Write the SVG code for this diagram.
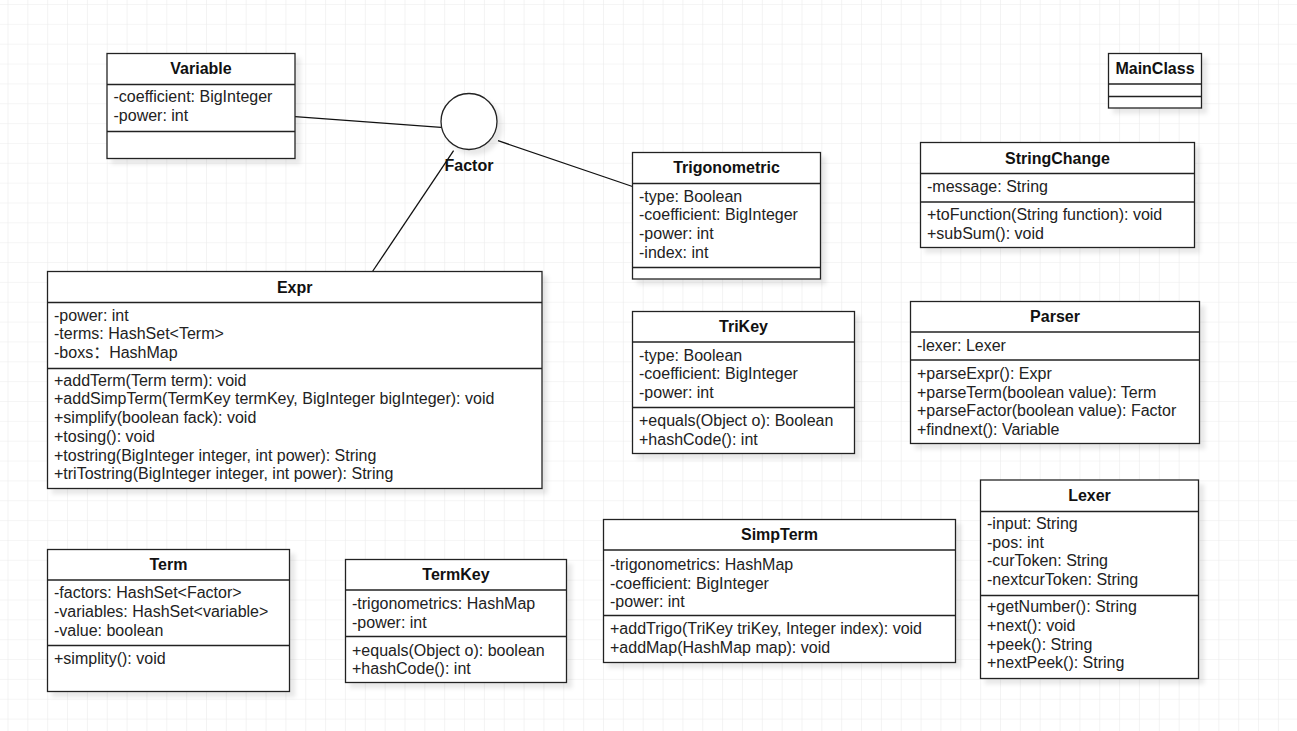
<svg xmlns="http://www.w3.org/2000/svg" width="1297" height="731" viewBox="0 0 1297 731">
<defs>
<pattern id="grid" x="7.5" y="4" width="19.85" height="19.85" patternUnits="userSpaceOnUse">
<path d="M0 0H19.85M0 0V19.85" fill="none" stroke="#ececec" stroke-width="1.2"/>
</pattern>
<filter id="sh" x="-10%" y="-10%" width="130%" height="130%">
<feDropShadow dx="5" dy="5" stdDeviation="2" flood-color="#000" flood-opacity="0.09"/>
</filter>
</defs>
<style>
.box{fill:#fff;stroke:#222;stroke-width:1.3}
.sep{stroke:#222;stroke-width:1.3}
.t{font-family:"Liberation Sans",Arial,sans-serif;font-size:16px;font-weight:bold;fill:#111;text-anchor:middle}
.a{font-family:"Liberation Sans",Arial,"Noto Sans CJK SC",sans-serif;font-size:16px;fill:#222}
.c{stroke:#111;stroke-width:1.3;fill:none}
</style>
<rect width="1297" height="731" fill="#fff"/>
<rect width="1297" height="731" fill="url(#grid)"/>

<g id="connectors">
<line class="c" x1="295" y1="116.7" x2="441" y2="127.3"/>
<line class="c" x1="498" y1="140.7" x2="632.5" y2="186.5"/>
<line class="c" x1="453.6" y1="150.7" x2="372.5" y2="271.5"/>
</g>

<g id="Factor">
<circle cx="469" cy="121.5" r="28" class="box" filter="url(#sh)"/>
<text class="t" x="469" y="171">Factor</text>
</g>

<g id="Variable">
<rect class="box" x="107" y="53.5" width="188" height="105" filter="url(#sh)"/>
<line class="sep" x1="107" y1="84.5" x2="295" y2="84.5"/>
<line class="sep" x1="107" y1="131.5" x2="295" y2="131.5"/>
<text class="t" x="201" y="74">Variable</text>
<text class="a" x="113.5" y="102.2">-coefficient: BigInteger</text>
<text class="a" x="113.5" y="121.2">-power: int</text>
</g>

<g id="MainClass">
<rect class="box" x="1108.5" y="53.5" width="93" height="54.5" filter="url(#sh)"/>
<line class="sep" x1="1108.5" y1="84" x2="1201.5" y2="84"/>
<line class="sep" x1="1108.5" y1="96.5" x2="1201.5" y2="96.5"/>
<text class="t" x="1155" y="74.3">MainClass</text>
</g>

<g id="Trigonometric">
<rect class="box" x="632.5" y="152.5" width="188" height="126.5" filter="url(#sh)"/>
<line class="sep" x1="632.5" y1="183.5" x2="820.5" y2="183.5"/>
<line class="sep" x1="632.5" y1="267.5" x2="820.5" y2="267.5"/>
<text class="t" x="726.5" y="173.2">Trigonometric</text>
<text class="a" x="639" y="201.7">-type: Boolean</text>
<text class="a" x="639" y="220.4">-coefficient: BigInteger</text>
<text class="a" x="639" y="239">-power: int</text>
<text class="a" x="639" y="257.7">-index: int</text>
</g>

<g id="StringChange">
<rect class="box" x="920.5" y="142.5" width="274" height="105" filter="url(#sh)"/>
<line class="sep" x1="920.5" y1="173.5" x2="1194.5" y2="173.5"/>
<line class="sep" x1="920.5" y1="202" x2="1194.5" y2="202"/>
<text class="t" x="1057.5" y="163.5">StringChange</text>
<text class="a" x="927" y="192.2">-message: String</text>
<text class="a" x="927" y="220">+toFunction(String function): void</text>
<text class="a" x="927" y="238.7">+subSum(): void</text>
</g>

<g id="Expr">
<rect class="box" x="47.5" y="271.5" width="494.5" height="217" filter="url(#sh)"/>
<line class="sep" x1="47.5" y1="302.5" x2="542" y2="302.5"/>
<line class="sep" x1="47.5" y1="368.5" x2="542" y2="368.5"/>
<text class="t" x="294.7" y="292.5">Expr</text>
<text class="a" x="54" y="320.5">-power: int</text>
<text class="a" x="54" y="339.2">-terms: HashSet&lt;Term&gt;</text>
<text class="a" x="54" y="357.9">-boxs：HashMap</text>
<text class="a" x="54" y="385.7">+addTerm(Term term): void</text>
<text class="a" x="54" y="404.4">+addSimpTerm(TermKey termKey, BigInteger bigInteger): void</text>
<text class="a" x="54" y="423.1">+simplify(boolean fack): void</text>
<text class="a" x="54" y="441.8">+tosing(): void</text>
<text class="a" x="54" y="460.5">+tostring(BigInteger integer, int power): String</text>
<text class="a" x="54" y="479.2">+triTostring(BigInteger integer, int power): String</text>
</g>

<g id="TriKey">
<rect class="box" x="632.5" y="311.5" width="222" height="142" filter="url(#sh)"/>
<line class="sep" x1="632.5" y1="342" x2="854.5" y2="342"/>
<line class="sep" x1="632.5" y1="407.5" x2="854.5" y2="407.5"/>
<text class="t" x="743.5" y="332.3">TriKey</text>
<text class="a" x="639" y="360.5">-type: Boolean</text>
<text class="a" x="639" y="379.2">-coefficient: BigInteger</text>
<text class="a" x="639" y="397.8">-power: int</text>
<text class="a" x="639" y="426">+equals(Object o): Boolean</text>
<text class="a" x="639" y="444.7">+hashCode(): int</text>
</g>

<g id="Parser">
<rect class="box" x="910.5" y="301.5" width="289" height="142" filter="url(#sh)"/>
<line class="sep" x1="910.5" y1="332" x2="1199.5" y2="332"/>
<line class="sep" x1="910.5" y1="360" x2="1199.5" y2="360"/>
<text class="t" x="1055" y="322.3">Parser</text>
<text class="a" x="917" y="350.5">-lexer: Lexer</text>
<text class="a" x="917" y="378.8">+parseExpr(): Expr</text>
<text class="a" x="917" y="397.5">+parseTerm(boolean value): Term</text>
<text class="a" x="917" y="416.2">+parseFactor(boolean value): Factor</text>
<text class="a" x="917" y="434.8">+findnext(): Variable</text>
</g>

<g id="Lexer">
<rect class="box" x="980.5" y="480" width="218" height="198.5" filter="url(#sh)"/>
<line class="sep" x1="980.5" y1="511.5" x2="1198.5" y2="511.5"/>
<line class="sep" x1="980.5" y1="595.5" x2="1198.5" y2="595.5"/>
<text class="t" x="1089.5" y="501.3">Lexer</text>
<text class="a" x="987" y="528.8">-input: String</text>
<text class="a" x="987" y="547.5">-pos: int</text>
<text class="a" x="987" y="566.2">-curToken: String</text>
<text class="a" x="987" y="584.8">-nextcurToken: String</text>
<text class="a" x="987" y="612.2">+getNumber(): String</text>
<text class="a" x="987" y="630.8">+next(): void</text>
<text class="a" x="987" y="649.5">+peek(): String</text>
<text class="a" x="987" y="668.2">+nextPeek(): String</text>
</g>

<g id="SimpTerm">
<rect class="box" x="603.5" y="519.5" width="352" height="143" filter="url(#sh)"/>
<line class="sep" x1="603.5" y1="550" x2="955.5" y2="550"/>
<line class="sep" x1="603.5" y1="615.5" x2="955.5" y2="615.5"/>
<text class="t" x="779.5" y="540.3">SimpTerm</text>
<text class="a" x="610" y="569.8">-trigonometrics: HashMap</text>
<text class="a" x="610" y="588.5">-coefficient: BigInteger</text>
<text class="a" x="610" y="607.2">-power: int</text>
<text class="a" x="610" y="633.8">+addTrigo(TriKey triKey, Integer index): void</text>
<text class="a" x="610" y="652.5">+addMap(HashMap map): void</text>
</g>

<g id="Term">
<rect class="box" x="47.5" y="549.5" width="242" height="142" filter="url(#sh)"/>
<line class="sep" x1="47.5" y1="580" x2="289.5" y2="580"/>
<line class="sep" x1="47.5" y1="645.5" x2="289.5" y2="645.5"/>
<text class="t" x="168.5" y="570.3">Term</text>
<text class="a" x="54" y="598.2">-factors: HashSet&lt;Factor&gt;</text>
<text class="a" x="54" y="616.9">-variables: HashSet&lt;variable&gt;</text>
<text class="a" x="54" y="635.5">-value: boolean</text>
<text class="a" x="54" y="663.8">+simplity(): void</text>
</g>

<g id="TermKey">
<rect class="box" x="345.5" y="559.5" width="221" height="123" filter="url(#sh)"/>
<line class="sep" x1="345.5" y1="590" x2="566.5" y2="590"/>
<line class="sep" x1="345.5" y1="636.5" x2="566.5" y2="636.5"/>
<text class="t" x="456" y="580.3">TermKey</text>
<text class="a" x="352" y="608.8">-trigonometrics: HashMap</text>
<text class="a" x="352" y="627.5">-power: int</text>
<text class="a" x="352" y="655.5">+equals(Object o): boolean</text>
<text class="a" x="352" y="674.2">+hashCode(): int</text>
</g>
</svg>
